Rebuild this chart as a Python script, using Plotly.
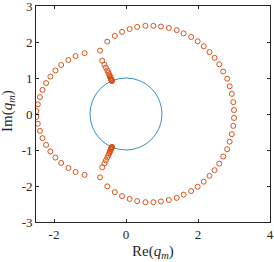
import plotly.graph_objects as go

# Upper half of q_m, lower half is the mirrored set
re_upper = [-2.49, -2.45, -2.39, -2.32, -2.22, -2.10, -1.96, -1.80, -1.60, -1.40, -1.15,
            -0.72, -0.52, -0.31, -0.11, 0.10, 0.31, 0.54, 0.76, 0.97, 1.19, 1.41, 1.60,
            1.81, 1.99, 2.16, 2.32, 2.46, 2.59, 2.70, 2.81, 2.88, 2.94, 2.98, 3.00,
            -0.66, -0.60, -0.56, -0.52, -0.49, -0.47, -0.45, -0.44, -0.43, -0.42,
            -0.415, -0.41, -0.405, -0.40, -0.398, -0.396, -0.394, -0.392, -0.39, -0.389]
im_upper = [0.08, 0.27, 0.47, 0.67, 0.86, 1.04, 1.21, 1.36, 1.50, 1.61, 1.69,
            1.76, 2.01, 2.17, 2.28, 2.36, 2.42, 2.45, 2.45, 2.43, 2.39, 2.33, 2.24,
            2.14, 2.02, 1.88, 1.72, 1.56, 1.38, 1.18, 0.98, 0.77, 0.56, 0.33, 0.11,
            1.48, 1.37, 1.29, 1.21, 1.15, 1.10, 1.06, 1.03, 1.00, 0.98,
            0.965, 0.955, 0.945, 0.94, 0.935, 0.93, 0.927, 0.924, 0.922, 0.92]
re_lower = list(re_upper)
im_lower = [-0.08, -0.27, -0.47, -0.67, -0.86, -1.04, -1.21, -1.36, -1.50, -1.61, -1.69,
            -1.76, -2.01, -2.17, -2.28, -2.36, -2.42, -2.45, -2.45, -2.43, -2.39, -2.33, -2.24,
            -2.14, -2.02, -1.88, -1.72, -1.56, -1.38, -1.18, -0.98, -0.77, -0.56, -0.33, -0.11,
            -1.48, -1.37, -1.29, -1.21, -1.15, -1.10, -1.06, -1.03, -1.00, -0.98,
            -0.965, -0.955, -0.945, -0.94, -0.935, -0.93, -0.927, -0.924, -0.922, -0.92]

unit_radius = 1.0
x_ticks = [-2, 0, 2, 4]
y_ticks = [-3, -2, -1, 0, 1, 2, 3]
x_title = "Re(<i>q</i><sub><i>m</i></sub>)"
y_title = "Im(<i>q</i><sub><i>m</i></sub>)"

ORANGE = "#D95319"
BLUE = "#0072BD"
INK = "#262626"
FONT = "Liberation Serif"

fig = go.Figure()
fig.add_shape(type="circle", xref="x", yref="y",
              x0=-unit_radius, x1=unit_radius, y0=-unit_radius, y1=unit_radius,
              line=dict(color=BLUE, width=0.8), layer="below")
fig.add_trace(go.Scatter(x=re_upper + re_lower, y=im_upper + im_lower, mode="markers",
                         marker=dict(symbol="circle-open", size=5, color=ORANGE,
                                     line=dict(width=1, color=ORANGE)),
                         showlegend=False, cliponaxis=True))

axis_common = dict(showgrid=False, zeroline=False, showline=True, linecolor=INK,
                   linewidth=0.8, mirror="ticks", ticks="inside", ticklen=3,
                   tickcolor=INK, tickwidth=0.8, automargin=False,
                   ticklabeloverflow="allow",
                   tickfont=dict(family=FONT, size=13, color=INK))

fig.update_xaxes(range=[-2.5, 4], tickvals=x_ticks, ticktext=[str(v) for v in x_ticks],
                 **axis_common)
fig.update_yaxes(range=[-3, 3], tickvals=y_ticks, ticktext=[str(v) for v in y_ticks],
                 **axis_common)

fig.add_annotation(text=x_title, xref="paper", yref="paper", x=0.5, y=0,
                   xanchor="center", yanchor="middle", yshift=-30, showarrow=False,
                   font=dict(family=FONT, size=15, color=INK))
fig.add_annotation(text=y_title, xref="paper", yref="paper", x=0, y=0.5,
                   xanchor="center", yanchor="middle", xshift=-28, yshift=3,
                   textangle=-90, showarrow=False,
                   font=dict(family=FONT, size=15, color=INK))

fig.update_layout(width=274, height=262, margin=dict(l=36, r=4, t=6, b=40),
                  plot_bgcolor="white", paper_bgcolor="white")
fig.write_html("out.html", config={"displayModeBar": False},
               post_script="document.body.style.margin='0';document.body.style.overflow='hidden';")
